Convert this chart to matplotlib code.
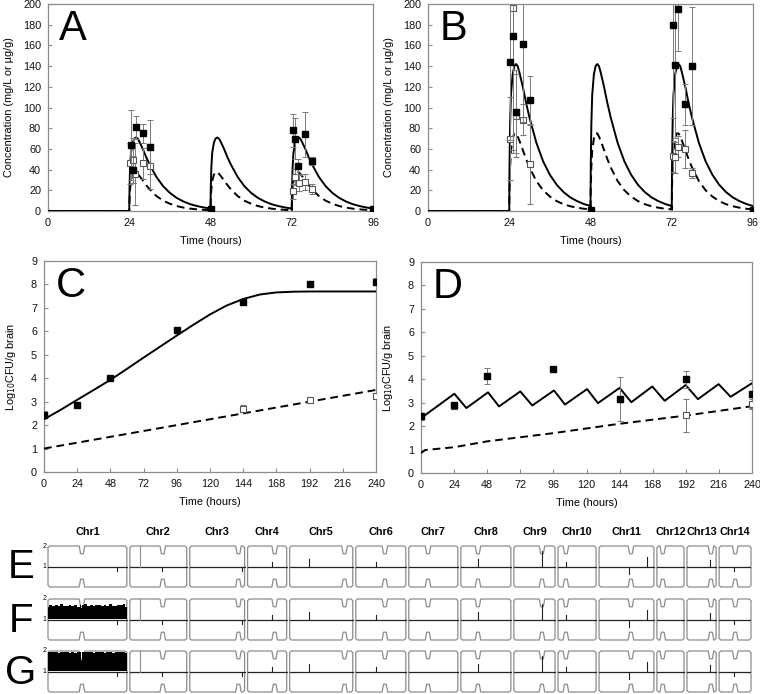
import numpy as np
import matplotlib
matplotlib.use("Agg")
import matplotlib.pyplot as plt
from matplotlib.path import Path
from matplotlib.patches import PathPatch

plt.rcParams['font.family'] = ['Liberation Sans', 'DejaVu Sans']

# ---------------- data ----------------
dose_times = [24, 48, 72]
# model profile after each dose (hours after dose)
prof_t = [0, 0.08, 0.25, 0.5, 1.0, 1.5, 2.0, 2.5, 3, 4, 5, 6, 8, 10, 12, 14, 16, 18, 20, 22, 24]
A_solid = [1, 22, 42, 56, 66, 70, 71, 70, 67, 60, 52, 45, 33, 24, 17.5, 12.7, 9.2, 6.6, 4.8, 3.4, 2.4]
A_dash = [0.8, 11, 21, 29, 35, 37.5, 37.5, 36, 34, 29.5, 25, 21, 14.5, 10, 7, 4.8, 3.3, 2.3, 1.6, 1.1, 0.8]
B_solid = [2, 44, 84, 112, 132, 140, 142, 140, 134, 120, 104, 90, 66, 48, 35, 25.4, 18.4, 13.2, 9.6, 6.8, 4.8]
B_dash = [1.5, 22, 42, 58, 70, 75, 75, 72, 68, 59, 50, 42, 29, 20, 14, 9.6, 6.6, 4.6, 3.2, 2.2, 1.6]

A_fill_t = [24.4, 25.1, 26.1, 28.0, 30.1, 48.0, 72.3, 72.9, 73.9, 76.0, 78.0, 96.0]
A_fill_y = [64, 40, 81, 75, 62, 2, 78, 70, 43, 74, 48, 2]
A_fill_e = [34, 13, 11, 9, 26, 1, 16, 20, 7, 22, 4, 1]
A_open_t = [24.2, 25.2, 25.6, 28.0, 30.1, 72.3, 73.0, 74.0, 76.0, 78.0]
A_open_y = [46, 49, 36, 46, 43, 19, 33, 27, 28, 21]
A_open_e = [20, 22, 30, 15, 22, 7, 8, 8, 8, 5]

B_fill_t = [24.3, 25.1, 26.1, 28.0, 30.2, 48.0, 72.3, 72.9, 73.9, 76.0, 78.0, 96.0]
B_fill_y = [144, 169, 96, 161, 107, 1, 180, 141, 195, 103, 140, 1]
B_fill_e = [75, 110, 40, 75, 23, 1, 90, 70, 40, 20, 57, 1]
B_open_t = [24.3, 25.1, 26.1, 28.0, 30.2, 72.3, 72.9, 73.9, 76.0, 78.0]
B_open_y = [70, 196, 92, 88, 45, 53, 52, 62, 60, 37]
B_open_e = [40, 140, 40, 15, 38, 15, 15, 10, 18, 5]

C_t = [0, 12, 24, 36, 48, 60, 72, 84, 96, 108, 120, 132, 144, 156, 168, 180, 192, 216, 240]
C_solid = [2.25, 2.65, 3.08, 3.5, 3.93, 4.4, 4.88, 5.35, 5.82, 6.28, 6.72, 7.1, 7.38, 7.57, 7.66, 7.69, 7.7, 7.7, 7.7]
C_dash_t = [0, 240]
C_dash = [1.0, 3.5]
C_fill_t = [0, 24, 48, 96, 144, 192, 240]
C_fill_y = [2.45, 2.87, 4.0, 6.07, 7.25, 8.03, 8.12]
C_fill_e = [0.15, 0.12, 0.05, 0.05, 0.07, 0.12, 0.15]
C_open_t = [144, 192, 240]
C_open_y = [2.7, 3.08, 3.25]
C_open_e = [0.15, 0.05, 0.05]

D_t = [0, 24.2, 32.9, 48.6, 56.6, 72, 80.7, 96.4, 104.4, 120.4, 128.3, 144, 152.5, 167.7, 176.7, 191.9, 200.8, 215.8, 224.5, 240]
D_solid = [2.34, 3.38, 2.77, 3.44, 2.84, 3.48, 2.88, 3.52, 2.92, 3.58, 2.98, 3.63, 3.02, 3.69, 3.08, 3.75, 3.15, 3.79, 3.25, 3.83]
D_dash_t = [0, 3, 24, 48, 96, 144, 192, 240]
D_dash = [0.85, 0.98, 1.1, 1.35, 1.7, 2.1, 2.45, 2.85]
D_fill_t = [0, 24, 48, 96, 144, 192, 240]
D_fill_y = [2.45, 2.88, 4.14, 4.42, 3.15, 4.0, 3.35]
D_fill_e = [0.12, 0.12, 0.36, 0.05, 0.95, 0.37, 0.6]
D_open_t = [0, 24, 192, 240]
D_open_y = [2.42, 2.85, 2.47, 2.96]
D_open_e = [0.15, 0.12, 0.7, 0.2]

chroms = ['Chr1', 'Chr2', 'Chr3', 'Chr4', 'Chr5', 'Chr6', 'Chr7', 'Chr8', 'Chr9', 'Chr10',
          'Chr11', 'Chr12', 'Chr13', 'Chr14']
chrom_len = [2.30, 1.66, 1.60, 1.14, 1.84, 1.46, 1.43, 1.46, 1.20, 1.11, 1.60, 0.79, 0.85, 0.93]
cen_pos = [0.99, 0.96, 1.42, 0.79, 1.60, 0.85, 0.56, 0.50, 0.82, 0.23, 0.93, 0.17, 0.70, 0.47]
row_labels = ['E', 'F', 'G']
# notable spikes of the ratio trace (chromosome index, position Mb, value)
spike_chr = [1, 1, 2, 3, 4, 7, 8, 9, 10, 10, 12, 13, 0, 5]
spike_pos = [0.30, 0.95, 1.52, 0.72, 0.55, 0.50, 0.82, 0.22, 0.88, 1.40, 0.66, 0.42, 2.0, 0.6]
spike_val = [2.0, 0.8, 0.8, 1.2, 1.35, 1.35, 1.75, 1.2, 0.65, 1.45, 1.3, 0.78, 0.8, 1.2]
# Chr1 trisomy ratio top edge (F and G)
chr1_x = [0.0, 0.08, 0.16, 0.24, 0.32, 0.40, 0.48, 0.56, 0.64, 0.72, 0.80, 0.88, 0.96, 0.99, 1.02,
          1.10, 1.18, 1.26, 1.34, 1.42, 1.50, 1.58, 1.66, 1.74, 1.82, 1.90, 1.98, 2.06, 2.14, 2.22, 2.30]
chr1_F = [1.62, 1.70, 1.64, 1.72, 1.66, 1.74, 1.68, 1.65, 1.72, 1.67, 1.70, 1.63, 1.69, 1.55, 1.70,
          1.74, 1.66, 1.71, 1.65, 1.73, 1.69, 1.64, 1.71, 1.67, 1.74, 1.68, 1.65, 1.72, 1.69, 1.74, 1.60]
chr1_G = [1.95, 1.97, 1.93, 1.96, 1.90, 1.97, 1.94, 1.96, 1.92, 1.96, 1.88, 1.95, 1.93, 1.55, 1.95,
          1.97, 1.93, 1.96, 1.90, 1.96, 1.94, 1.97, 1.92, 1.95, 1.96, 1.91, 1.97, 1.94, 1.96, 1.93, 1.90]

# ---------------- figure ----------------
W, H = 760, 694
fig = plt.figure(figsize=(7.6, 6.94), dpi=100)


def rect(l, t, r, b):
    return [l / W, 1 - b / H, (r - l) / W, (b - t) / H]


GRAY = '#8c8c8c'
EGRAY = '#7a7a7a'
FS = 7.8


def style(ax):
    for s in ax.spines.values():
        s.set_color(GRAY)
        s.set_linewidth(0.9)
    ax.tick_params(direction='in', length=3, width=0.8, color=GRAY, labelsize=FS,
                   labelcolor='#111111', pad=5)


def cycle_curve(vals):
    t = [0, 24]
    y = [0, 0]
    for d in dose_times:
        t += [d + p for p in prof_t]
        y += list(vals)
    return t, y


def pk_panel(rectp, solid, dash, ft, fy, fe, ot, oy, oe, letter):
    ax = fig.add_axes(rect(*rectp))
    style(ax)
    t, y = cycle_curve(solid)
    ax.plot(t, y, color='black', lw=1.4, zorder=3)
    t, y = cycle_curve(dash)
    ax.plot(t, y, color='black', lw=1.4, ls=(0, (4, 2.5)), zorder=3)
    ax.errorbar(ot, oy, yerr=oe, fmt='s', mfc='white', mec='#555555', mew=0.8, ms=5,
                ecolor=EGRAY, elinewidth=0.7, capsize=2, capthick=0.7, zorder=4)
    ax.errorbar(ft, fy, yerr=fe, fmt='s', mfc='black', mec='black', ms=5,
                ecolor=EGRAY, elinewidth=0.7, capsize=2, capthick=0.7, zorder=5)
    ax.set_xlim(0, 96)
    ax.set_ylim(0, 200)
    ax.set_xticks([0, 24, 48, 72, 96])
    ax.set_yticks(range(0, 201, 20))
    ax.set_xlabel('Time (hours)', fontsize=FS, labelpad=6)
    ax.set_ylabel('Concentration (mg/L or µg/g)', fontsize=FS, labelpad=6)
    ax.text(0.035, 0.975, letter, transform=ax.transAxes, fontsize=30, va='top', ha='left')
    return ax


pk_panel((48, 4, 373, 211), A_solid, A_dash, A_fill_t, A_fill_y, A_fill_e,
         A_open_t, A_open_y, A_open_e, 'A')
pk_panel((428, 4, 753, 211), B_solid, B_dash, B_fill_t, B_fill_y, B_fill_e,
         B_open_t, B_open_y, B_open_e, 'B')


def cfu_panel(rectp, st, sy, dt, dy, ft, fy, fe, ot, oy, oe, letter):
    ax = fig.add_axes(rect(*rectp))
    style(ax)
    ax.plot(st, sy, color='black', lw=1.4, zorder=3)
    ax.plot(dt, dy, color='black', lw=1.4, ls=(0, (4, 2.5)), zorder=3)
    ax.errorbar(ot, oy, yerr=oe, fmt='s', mfc='white', mec='#555555', mew=0.8, ms=5,
                ecolor=EGRAY, elinewidth=0.7, capsize=2, capthick=0.7, zorder=4)
    ax.errorbar(ft, fy, yerr=fe, fmt='s', mfc='black', mec='black', ms=5,
                ecolor=EGRAY, elinewidth=0.7, capsize=2, capthick=0.7, zorder=5)
    ax.set_xlim(0, 240)
    ax.set_ylim(0, 9)
    ax.set_xticks(range(0, 241, 24))
    ax.set_yticks(range(0, 10))
    ax.set_xlabel('Time (hours)', fontsize=FS, labelpad=6)
    ax.set_ylabel('Log$_{10}$CFU/g brain', fontsize=FS, labelpad=9)
    ax.text(0.035, 0.975, letter, transform=ax.transAxes, fontsize=30, va='top', ha='left')
    return ax


cfu_panel((44, 261, 376, 472), C_t, C_solid, C_dash_t, C_dash, C_fill_t, C_fill_y, C_fill_e,
          C_open_t, C_open_y, C_open_e, 'C')
cfu_panel((421, 262, 752, 473), D_t, D_solid, D_dash_t, D_dash, D_fill_t, D_fill_y, D_fill_e,
          D_open_t, D_open_y, D_open_e, 'D')

# ---------------- karyotype rows ----------------
gap = 0.0875
starts = []
x = 0.0
for L in chrom_len:
    starts.append(x)
    x += L + gap
total = x - gap

rows_px = [(546, 587), (599, 640), (651, 692)]
nw = 0.16   # notch width (Mb)
nd = 0.38   # notch depth (y units)
ch = 0.05   # corner chamfer


def chrom_path(x0, L, c):
    x1 = x0 + L
    cx = x0 + c
    verts = [
        (x0 + ch, 2), (cx - nw / 2, 2), (cx - nw / 4, 2 - nd), (cx + nw / 4, 2 - nd), (cx + nw / 2, 2),
        (x1 - ch, 2), (x1, 2 - 0.08), (x1, 0.08), (x1 - ch, 0),
        (cx + nw / 2, 0), (cx + nw / 4, nd), (cx - nw / 4, nd), (cx - nw / 2, 0),
        (x0 + ch, 0), (x0, 0.08), (x0, 2 - 0.08), (x0 + ch, 2)]
    codes = [Path.MOVETO] + [Path.LINETO] * (len(verts) - 2) + [Path.CLOSEPOLY]
    return Path(verts, codes)


for r, (top, bot) in enumerate(rows_px):
    ax = fig.add_axes(rect(48, top, 751, bot))
    ax.set_xlim(0, total)
    ax.set_ylim(0, 2)
    ax.axis('off')
    for i, (x0, L, c) in enumerate(zip(starts, chrom_len, cen_pos)):
        ax.add_patch(PathPatch(chrom_path(x0, L, c), fc='none', ec=GRAY, lw=0.9, clip_on=False))
        if i == 0 and r > 0:
            top_vals = chr1_F if r == 1 else chr1_G
            xs = [x0 + v for v in chr1_x]
            ax.fill_between(xs, 1, top_vals, color='black', lw=0, step='mid')
        ax.plot([x0, x0 + L], [1, 1], color='#222222', lw=0.9)
    for ci, p, v in zip(spike_chr, spike_pos, spike_val):
        x0 = starts[ci]
        col = GRAY if v >= 1.9 else '#222222'
        ax.plot([x0 + p, x0 + p], [1, v], color=col, lw=0.8)
    ax.text(-0.04, 2, '2', fontsize=5, ha='right', va='center')
    ax.text(-0.04, 1, '1', fontsize=5, ha='right', va='center')
    fig.text(21 / W, 1 - ((top + bot) / 2 + 1) / H, row_labels[r], fontsize=29,
             ha='center', va='center')
    if r == 0:
        for name, x0, L in zip(chroms, starts, chrom_len):
            ax.text(x0 + L / 2, 2.45, name, fontsize=7.8, fontweight='bold',
                    family=['Liberation Sans', 'DejaVu Sans'], ha='center', va='bottom',
                    clip_on=False)

fig.savefig('out.png', dpi=100)
